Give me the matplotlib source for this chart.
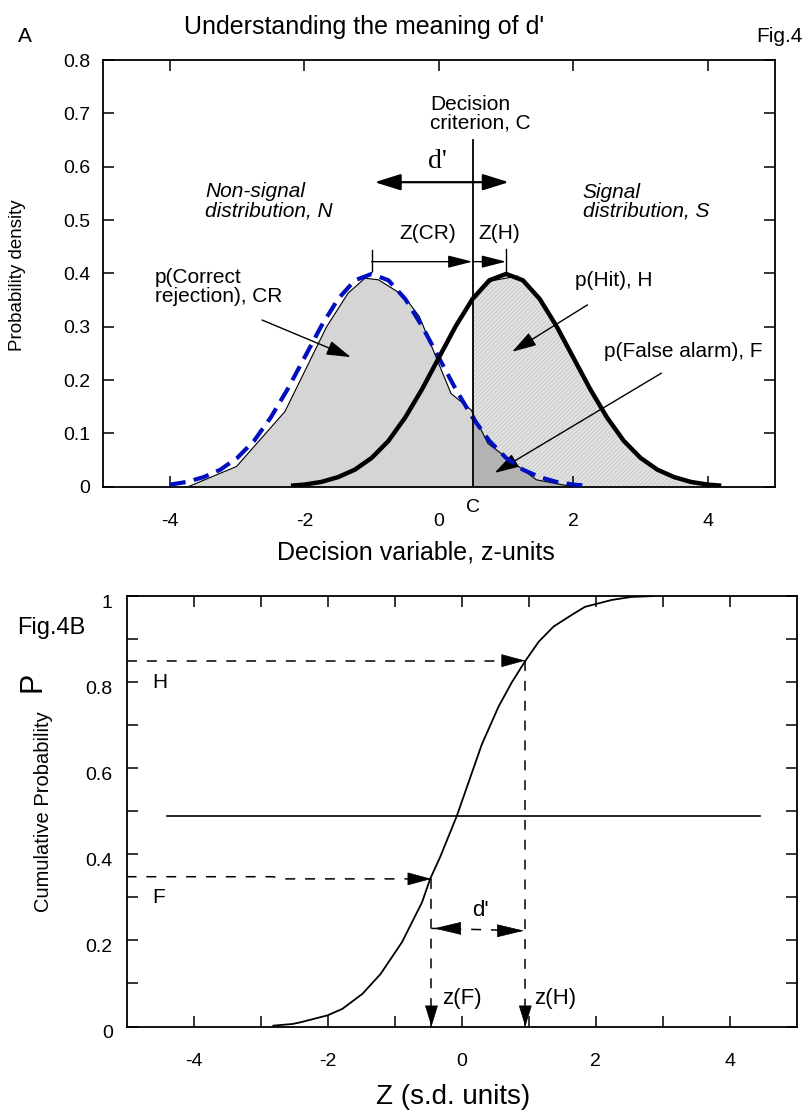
import numpy as np
import matplotlib.pyplot as plt
import matplotlib.transforms as mtransforms

plt.rcParams['font.family'] = ['Liberation Sans', 'DejaVu Sans']
plt.rcParams['hatch.linewidth'] = 0.5
narrow = ['Liberation Sans Narrow', 'Liberation Sans', 'DejaVu Sans']

# ---------------- panel A : the two distributions
noise_x = [-4.0, -3.75, -3.5, -3.25, -3.0, -2.75, -2.5, -2.25, -2.0, -1.75, -1.5, -1.25, -1.0,
           -0.75, -0.5, -0.25, 0.0, 0.25, 0.5, 0.75, 1.0, 1.25, 1.5, 1.75, 2.0, 2.2]
noise_y = [0.004, 0.009, 0.018, 0.032, 0.054, 0.086, 0.130, 0.183, 0.242, 0.301, 0.352, 0.387, 0.399,
           0.387, 0.352, 0.301, 0.242, 0.183, 0.130, 0.086, 0.054, 0.032, 0.018, 0.009, 0.004, 0.002]

signal_x = [-2.2, -2.0, -1.75, -1.5, -1.25, -1.0, -0.75, -0.5, -0.25, 0.0, 0.25, 0.5, 0.75, 1.0,
            1.25, 1.5, 1.75, 2.0, 2.25, 2.5, 2.75, 3.0, 3.25, 3.5, 3.75, 4.0, 4.2]
signal_y = [0.002, 0.004, 0.009, 0.018, 0.032, 0.054, 0.086, 0.130, 0.183, 0.242, 0.301, 0.352, 0.387, 0.399,
            0.387, 0.352, 0.301, 0.242, 0.183, 0.130, 0.086, 0.054, 0.032, 0.018, 0.009, 0.004, 0.002]

# coarse outlines of the shaded areas
area_n_x = [-3.73, -3.01, -2.29, -1.67, -1.35, -1.10, -0.90, -0.53, -0.29, 0.18, 0.48, 0.73, 1.45, 1.99]
area_n_y = [0.0, 0.038, 0.141, 0.300, 0.363, 0.391, 0.388, 0.359, 0.319, 0.175, 0.144, 0.081, 0.013, 0.0]
area_s_x = [0.5, 0.78, 1.17, 1.5, 2.0, 2.5, 3.0, 3.5, 4.0, 4.2]
area_s_y = [0.352, 0.386, 0.395, 0.352, 0.242, 0.130, 0.054, 0.018, 0.004, 0.0]

criterion = 0.5
mean_n, mean_s = -1.0, 1.0

top_xticks = [-4, -2, 0, 2, 4]
top_xlabels = ['-4', '-2', '0', '2', '4']
top_yticks = [0, 0.1, 0.2, 0.3, 0.4, 0.5, 0.6, 0.7, 0.8]
top_ylabels = ['0', '0.1', '0.2', '0.3', '0.4', '0.5', '0.6', '0.7', '0.8']

# ---------------- panel B : cumulative curve
cum_z = [-2.81, -2.52, -2.40, -2.00, -1.78, -1.48, -1.21, -0.89, -0.59, -0.47, -0.32, -0.07,
         0.08, 0.30, 0.55, 0.75, 0.94, 1.15, 1.37, 1.64, 1.84, 2.24, 2.53, 2.86]
cum_p = [0.002, 0.006, 0.010, 0.026, 0.041, 0.076, 0.122, 0.196, 0.289, 0.343, 0.394, 0.49,
         0.557, 0.655, 0.743, 0.800, 0.847, 0.894, 0.929, 0.956, 0.975, 0.991, 0.998, 1.0]
z_F, p_F = -0.45, 0.343
z_H, p_H = 0.95, 0.85
f_line_x = [-5.0, -2.82, -2.62, z_F]
f_line_y = [0.348, 0.348, p_F, p_F]
half_line_x = [-4.4, 4.45]
half_p = 0.49

bot_xticks = [-4, -3, -2, -1, 0, 1, 2, 3, 4]
bot_xlabels = ['-4', '', '-2', '', '0', '', '2', '', '4']
bot_yticks = [0, 0.1, 0.2, 0.3, 0.4, 0.5, 0.6, 0.7, 0.8, 0.9, 1.0]
bot_ylabels = ['0', '', '0.2', '', '0.4', '', '0.6', '', '0.8', '', '1']


def arrow(ax, x0, y0, x1, y1, hl=15, hw=4.5, lw=1.0, style='-|>'):
    ax.annotate('', xy=(x1, y1), xytext=(x0, y0),
                arrowprops=dict(arrowstyle='%s,head_length=%s,head_width=%s' % (style, hl, hw),
                                lw=lw, color='k', shrinkA=0, shrinkB=0, mutation_scale=1))


def head(ax, x, y, dx, dy, hl=15, hw=4.3):
    # arrow head only, pointing at (x, y), coming from offset (dx, dy) points
    ax.annotate('', xy=(x, y), xytext=(dx, dy), textcoords='offset points',
                arrowprops=dict(arrowstyle='-|>,head_length=%s,head_width=%s' % (hl, hw),
                                lw=0.5, color='k', shrinkA=0, shrinkB=0, mutation_scale=1))


def style_axes(ax, lw=1.3):
    for s in ax.spines.values():
        s.set_linewidth(lw)
    ax.tick_params(direction='in', length=8, width=1.1, top=True, right=True)


fig = plt.figure(figsize=(8.07, 11.10), dpi=100)

# ================= A =================
ax1 = fig.add_axes([0.1273, 0.5615, 0.8331, 0.3844])
ax1.set_xlim(-5, 5)
ax1.set_ylim(0, 0.8)
style_axes(ax1)

n_at_c = np.interp(criterion, area_n_x, area_n_y)
ax_n = np.array(area_n_x)
ay_n = np.array(area_n_y)
left = ax_n <= criterion
cr_x = list(ax_n[left]) + [criterion, criterion]
cr_y = list(ay_n[left]) + [n_at_c, 0]
fa_x = [criterion, criterion] + list(ax_n[~left])
fa_y = [0, n_at_c] + list(ay_n[~left])
hit_x = [criterion] + area_s_x
hit_y = [0] + area_s_y

ax1.fill(hit_x, hit_y, facecolor='#e2e2e2', edgecolor='#c2c2c2', hatch='////////', lw=0, zorder=1)
ax1.fill(cr_x, cr_y, facecolor='#d5d5d5', lw=0, zorder=2)
ax1.fill(fa_x, fa_y, facecolor='#b3b3b3', lw=0, zorder=2)
ax1.plot(area_n_x, area_n_y, color='k', lw=0.8, zorder=3)
ax1.plot(area_s_x[:3], area_s_y[:3], color='k', lw=0.8, zorder=3)

ax1.plot(noise_x, noise_y, color='#0010c0', lw=3.0, dashes=(3.8, 2.0), zorder=4)
ax1.plot(signal_x, signal_y, color='k', lw=3.2, zorder=5, solid_capstyle='butt')
ax1.plot([criterion, criterion], [0, 0.65], color='k', lw=1.3, zorder=6)

ax1.set_xticks(top_xticks)
ax1.set_xticklabels(top_xlabels, fontsize=14, family=narrow)
ax1.set_yticks(top_yticks)
ax1.set_yticklabels(top_ylabels, fontsize=14, family=narrow)
ax1.tick_params(axis='x', pad=19)
ax1.tick_params(axis='y', pad=9)

ax1.text(-0.13, 0.70, 'Decision\ncriterion, C', fontsize=15, ha='left', va='center', linespacing=0.95)
ax1.text(-0.02, 0.61, "d'", fontsize=20, family='Liberation Serif', ha='center', va='center')
arrow(ax1, -0.955, 0.571, 1.04, 0.571, hl=16, hw=5, lw=1.6, style='<|-|>')
ax1.text(-3.48, 0.535, 'Non-signal\ndistribution, N', fontsize=15, style='italic',
         ha='left', va='center', linespacing=1.0)
ax1.text(2.14, 0.534, 'Signal\ndistribution, S', fontsize=15, style='italic',
         ha='left', va='center', linespacing=1.0)
ax1.text(-0.16, 0.474, 'Z(CR)', fontsize=15, ha='center', va='center')
ax1.text(0.90, 0.474, 'Z(H)', fontsize=15, ha='center', va='center')
ax1.plot([mean_n, mean_n], [0.405, 0.444], color='k', lw=1.0)
ax1.plot([mean_s, mean_s], [0.402, 0.446], color='k', lw=1.0)
arrow(ax1, mean_n, 0.422, criterion, 0.422, hl=15, hw=3.8)
arrow(ax1, criterion, 0.422, mean_s, 0.422, hl=15, hw=3.8)

ax1.text(-4.22, 0.374, 'p(Correct\nrejection), CR', fontsize=15, ha='left', va='center', linespacing=1.0)
arrow(ax1, -2.63, 0.3126, -1.31, 0.243)
ax1.text(2.02, 0.387, 'p(Hit), H', fontsize=15, ha='left', va='center')
arrow(ax1, 2.21, 0.341, 1.09, 0.253)
ax1.text(2.45, 0.253, 'p(False alarm), F', fontsize=15, ha='left', va='center')
arrow(ax1, 3.31, 0.213, 0.83, 0.026)
ax1.text(criterion, -0.038, 'C', fontsize=14, family=narrow, ha='center', va='center', clip_on=False)

fig.text(0.4517, 0.976, "Understanding the meaning of d'", fontsize=18, family=narrow, ha='center', va='center')
fig.text(0.0223, 0.967, 'A', fontsize=15, family=narrow, ha='left', va='center')
fig.text(0.995, 0.967, 'Fig.4', fontsize=15, family=narrow, ha='right', va='center')
fig.text(0.0223, 0.752, 'Probability density', fontsize=13.5, rotation=90, ha='center', va='center')
fig.text(0.5155, 0.5027, 'Decision variable, z-units', fontsize=18, family=narrow, ha='center', va='center')

# ================= B =================
ax2 = fig.add_axes([0.1568, 0.0752, 0.8305, 0.3878])
ax2.set_xlim(-5, 5)
ax2.set_ylim(0, 1)
style_axes(ax2)
ax2.set_xticks(bot_xticks)
ax2.set_xticklabels(bot_xlabels, fontsize=14, family=narrow)
ax2.set_yticks(bot_yticks)
ax2.set_yticklabels(bot_ylabels, fontsize=14, family=narrow)
ax2.tick_params(axis='x', pad=19)
ax2.tick_params(axis='y', pad=10)
shift = mtransforms.ScaledTranslation(0, -5 / 100, fig.dpi_scale_trans)
for lab in ax2.get_yticklabels():
    lab.set_transform(lab.get_transform() + shift)

ax2.plot(cum_z, cum_p, color='k', lw=1.3)
ax2.plot(half_line_x, [half_p, half_p], color='k', lw=1.2)

dash = dict(color='k', lw=1.1, dashes=(6.5, 6.5))
ax2.plot([-5, z_H], [p_H, p_H], **dash)
head(ax2, z_H, p_H, -16, 0, hl=16, hw=4.3)
ax2.plot(f_line_x, f_line_y, **dash)
head(ax2, z_F, p_F, -16, 0, hl=16, hw=4.3)
ax2.plot([z_F, z_F], [p_F, 0], **dash)
head(ax2, z_F, 0, 0, 14, hl=14, hw=4.3)
ax2.plot([z_H, z_H], [p_H, 0], **dash)
head(ax2, z_H, 0, 0, 14, hl=14, hw=4.3)
ax2.plot([z_F, z_H], [0.228, 0.2225], **dash)
head(ax2, z_F + 0.04, 0.228, 18, 0, hl=18, hw=4.3)
head(ax2, z_H - 0.02, 0.2225, -18, 0, hl=18, hw=4.3)
ax2.text(0.28, 0.27, "d'", fontsize=16, ha='center', va='center')
ax2.text(-0.29, 0.065, 'z(F)', fontsize=16, family=narrow, ha='left', va='center')
ax2.text(1.08, 0.065, 'z(H)', fontsize=16, family=narrow, ha='left', va='center')
ax2.text(-4.62, 0.80, 'H', fontsize=15, ha='left', va='center')
ax2.text(-4.62, 0.30, 'F', fontsize=15, ha='left', va='center')

fig.text(0.021, 0.434, 'Fig.4B', fontsize=17, ha='left', va='center')
fig.text(0.0397, 0.3856, 'P', fontsize=22, rotation=90, ha='center', va='center')
fig.text(0.0545, 0.2685, 'Cumulative Probability', fontsize=14.5, rotation=90, ha='center', va='center')
fig.text(0.561, 0.0117, 'Z (s.d. units)', fontsize=20, family=narrow, ha='center', va='center')

fig.savefig('out.png', dpi=100)
